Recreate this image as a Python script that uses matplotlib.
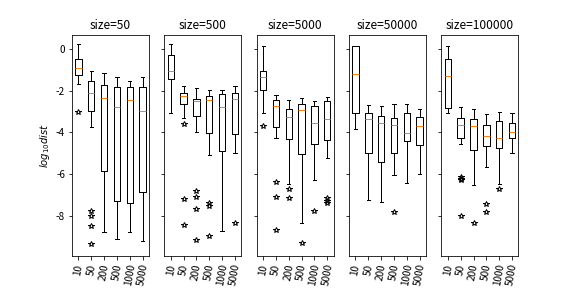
import matplotlib
matplotlib.use('Agg')
import matplotlib.pyplot as plt

plt.rcParams['font.family'] = ['Noto Sans CJK SC', 'DejaVu Sans']
plt.rcParams['axes.unicode_minus'] = False

sizes = [50, 500, 5000, 50000, 100000]
labels = ['10', '50', '200', '500', '1000', '5000']

# per panel, per box: whislo, q1, med, q3, whishi  (log10 dist)
whislo = [
    [-1.70, -3.74, -8.74, -9.09, -8.74, -9.21],
    [-3.06, -3.30, -3.96, -5.10, -8.69, -4.97],
    [-3.07, -4.26, -6.44, -8.33, -6.29, -5.24],
    [-3.83, -7.23, -7.33, -6.02, -6.41, -5.97],
    [-3.06, -4.56, -6.50, -5.66, -6.47, -5.00],
]
q1 = [
    [-1.23, -2.96, -5.83, -7.28, -7.38, -6.84],
    [-1.46, -2.62, -3.20, -4.01, -4.90, -4.05],
    [-1.97, -3.74, -4.29, -5.05, -4.56, -4.37],
    [-3.07, -4.97, -5.39, -4.97, -4.43, -4.58],
    [-2.82, -4.27, -4.82, -4.66, -4.76, -4.27],
]
med = [
    [-0.91, -2.09, -2.33, -2.77, -2.43, -2.99],
    [-1.07, -2.25, -2.48, -2.43, -2.77, -2.39],
    [-1.33, -2.73, -3.25, -2.91, -3.56, -3.35],
    [-1.20, -3.38, -3.53, -3.64, -4.03, -3.69],
    [-1.28, -3.64, -3.71, -4.17, -4.27, -4.00],
]
q3 = [
    [-0.49, -1.55, -1.72, -1.81, -1.81, -1.81],
    [-0.31, -2.10, -2.39, -2.25, -2.15, -2.10],
    [-1.04, -2.43, -2.88, -2.62, -2.72, -2.48],
    [0.13, -3.07, -3.20, -3.30, -3.07, -3.27],
    [-0.49, -3.30, -3.35, -3.64, -3.45, -3.56],
]
whishi = [
    [0.24, -1.05, -1.17, -1.33, -1.54, -1.33],
    [0.24, -1.76, -1.86, -1.96, -1.96, -1.76],
    [0.13, -2.20, -2.43, -2.35, -2.48, -2.30],
    [0.13, -2.67, -2.73, -2.64, -2.64, -2.86],
    [0.13, -2.78, -2.86, -3.12, -3.01, -3.07],
]
fliers = [
    [[-3.04], [-7.75, -8.01, -8.46, -9.35], [], [], [], []],
    [[], [-3.58, -7.17, -8.41], [-6.82, -7.09, -7.65, -9.14], [-7.35, -7.51, -8.96], [], [-8.32]],
    [[-3.71], [-6.38, -7.10, -8.66], [-6.70, -7.15], [-9.30], [-7.73], [-7.15, -7.28, -7.38]],
    [[], [], [], [-7.80], [], []],
    [[], [-6.15, -6.21, -6.29, -7.99], [-8.33], [-7.41, -7.80], [-6.70], []],
]

fig, axes = plt.subplots(1, 5, sharey=True, figsize=(8, 4), dpi=72)
for i, ax in enumerate(axes):
    stats = []
    for j in range(len(labels)):
        stats.append({'whislo': whislo[i][j], 'q1': q1[i][j], 'med': med[i][j],
                      'q3': q3[i][j], 'whishi': whishi[i][j], 'fliers': fliers[i][j]})
    ax.bxp(stats, flierprops={'marker': '*', 'markerfacecolor': 'none',
                              'markeredgecolor': 'black', 'markersize': 6})
    ax.set_xticks(range(1, len(labels) + 1))
    ax.set_xticklabels(labels, rotation=80)
    ax.set_title('size=%d' % sizes[i])
    ax.set_ylim(-9.92, 0.68)
    ax.set_yticks([0, -2, -4, -6, -8])

axes[0].set_ylabel('$log_{10}dist$')
plt.savefig('out.png')
